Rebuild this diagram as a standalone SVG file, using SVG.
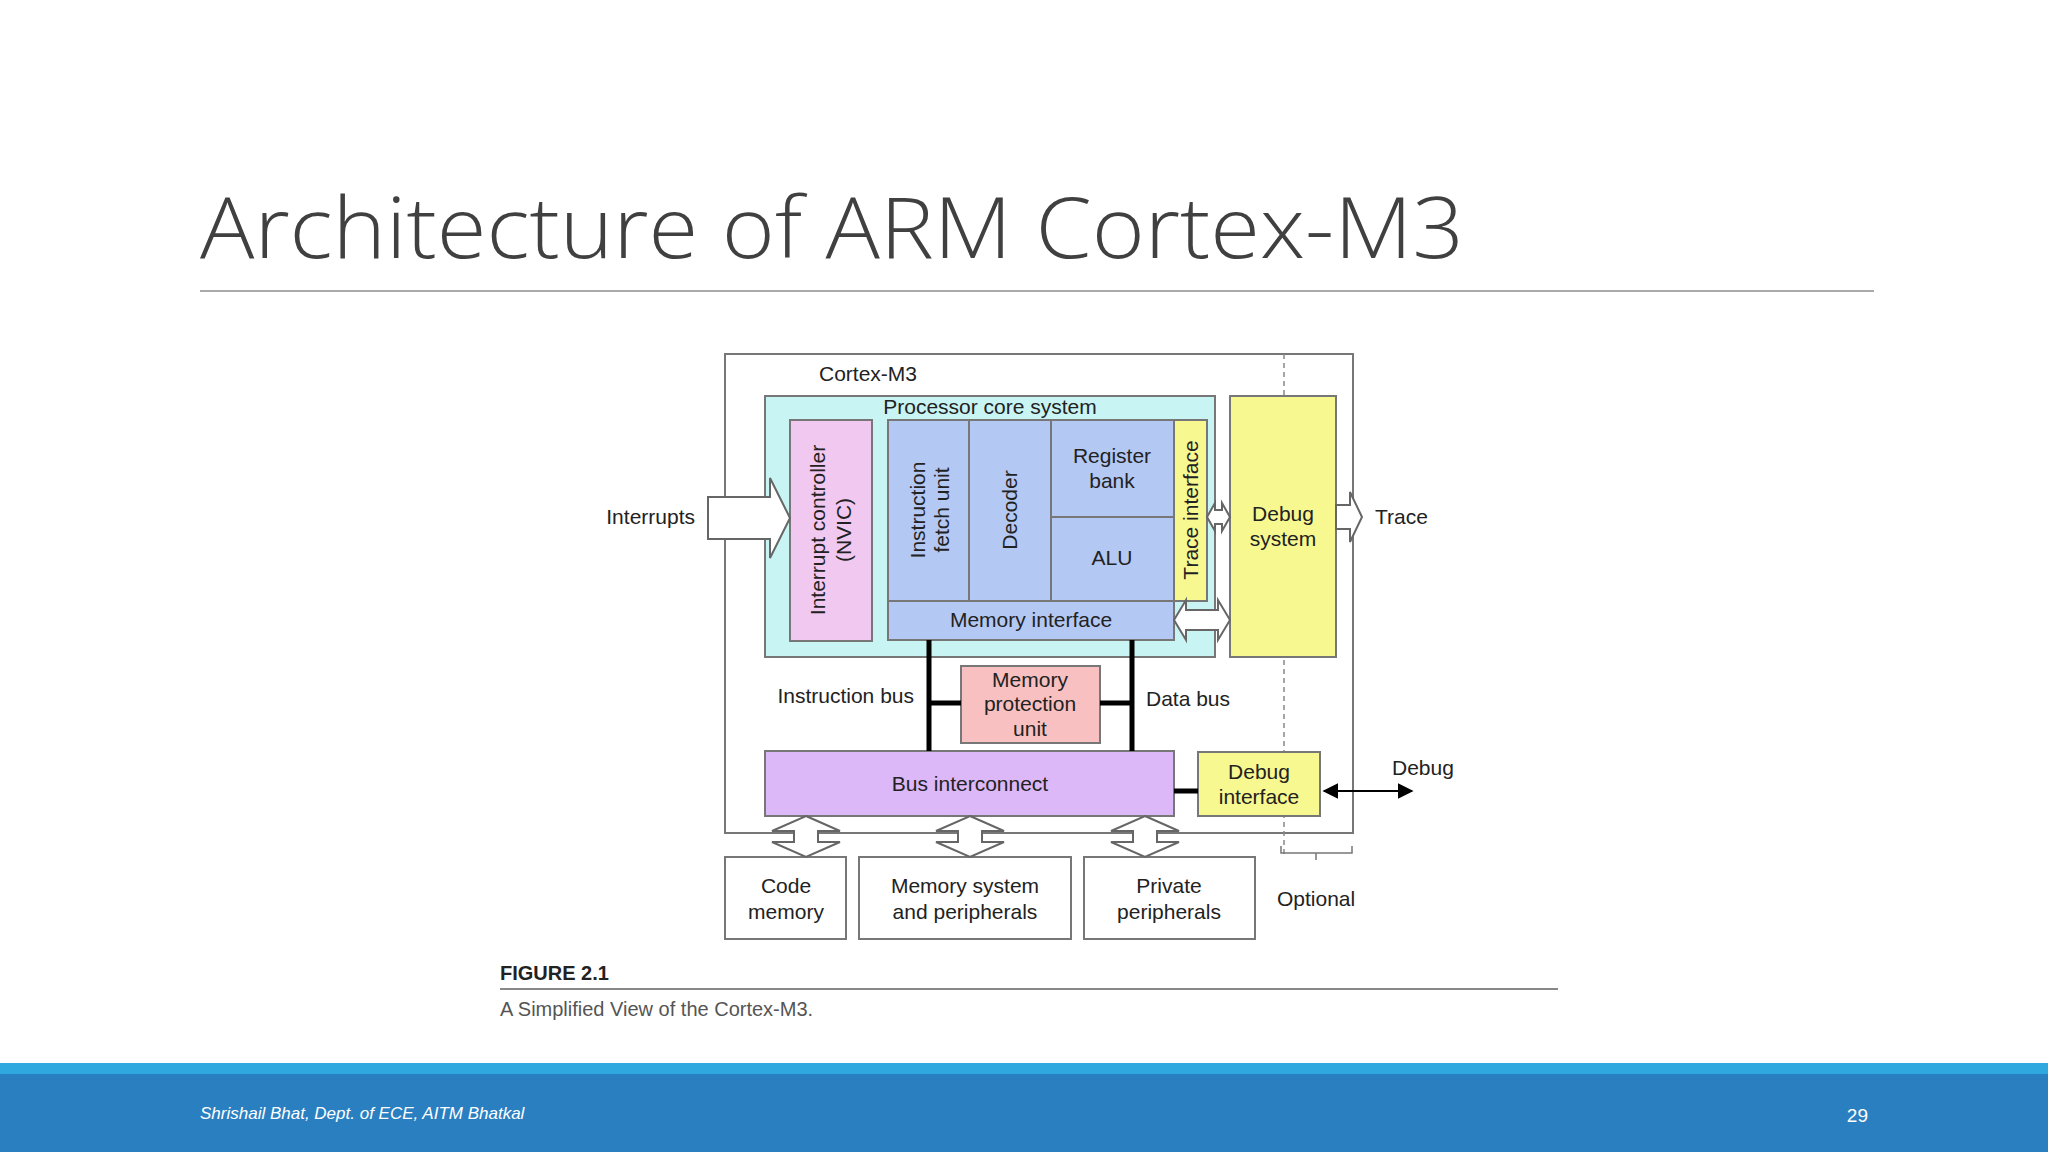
<svg xmlns="http://www.w3.org/2000/svg" width="2048" height="1152" viewBox="0 0 2048 1152">
<style>
text{font-family:"Liberation Sans",Arial,sans-serif;fill:#222;font-size:21px}
.b{stroke:#777;stroke-width:2}
.c{text-anchor:middle}
.bar{stroke:#000;stroke-width:5;fill:none}
.ar{fill:#fff;stroke:#666;stroke-width:2}
</style>
<defs>
<marker id="ah" viewBox="0 0 10 10" refX="9" refY="5" markerWidth="8" markerHeight="8" orient="auto-start-reverse"><path d="M0,0L10,5L0,10z" fill="#000"/></marker>
</defs>
<rect width="2048" height="1152" fill="#fff"/>
<text x="200" y="258" textLength="1264" lengthAdjust="spacingAndGlyphs" style="font-family:'Open Sans',sans-serif;font-weight:300;font-size:84px;fill:#404040">Architecture of ARM Cortex-M3</text>
<line x1="200" y1="291" x2="1874" y2="291" stroke="#aaa" stroke-width="2"/>

<g id="cortex"><rect x="725" y="354" width="628" height="479" fill="#fff" class="b"/><text x="819" y="381">Cortex-M3</text></g>
<line x1="1284" y1="354" x2="1284" y2="858" stroke="#888" stroke-width="1.5" stroke-dasharray="5,4"/>
<g id="core"><rect x="765" y="396" width="450" height="261" fill="#c8f4f4" class="b"/><text x="990" y="414" class="c">Processor core system</text></g>
<g id="nvic"><rect x="790" y="420" width="82" height="221" fill="#f0c8f0" class="b"/><text transform="translate(825,530) rotate(-90)" class="c">Interrupt controller</text><text transform="translate(851,530) rotate(-90)" class="c">(NVIC)</text></g>
<g id="fetch"><rect x="888" y="420" width="81" height="181" fill="#b4c8f4" class="b"/><text transform="translate(925,510) rotate(-90)" class="c">Instruction</text><text transform="translate(949,510) rotate(-90)" class="c">fetch unit</text></g>
<g id="decoder"><rect x="969" y="420" width="82" height="181" fill="#b4c8f4" class="b"/><text transform="translate(1017,510) rotate(-90)" class="c">Decoder</text></g>
<g id="regbank"><rect x="1051" y="420" width="123" height="97" fill="#b4c8f4" class="b"/><text x="1112" y="463" class="c">Register</text><text x="1112" y="488" class="c">bank</text></g>
<g id="alu"><rect x="1051" y="517" width="123" height="84" fill="#b4c8f4" class="b"/><text x="1112" y="565" class="c">ALU</text></g>
<g id="trace"><rect x="1174" y="420" width="33" height="181" fill="#f8f890" class="b"/><text transform="translate(1198,510) rotate(-90)" class="c">Trace interface</text></g>
<g id="memif"><rect x="888" y="601" width="286" height="39" fill="#b4c8f4" class="b"/><text x="1031" y="627" class="c">Memory interface</text></g>
<g id="debugsys"><rect x="1230" y="396" width="106" height="261" fill="#f8f890" class="b"/><text x="1283" y="521" class="c">Debug</text><text x="1283" y="546" class="c">system</text></g>
<g id="mpu"><rect x="961" y="666" width="139" height="77" fill="#f8c0c0" class="b"/><text x="1030" y="687" class="c">Memory</text><text x="1030" y="711" class="c">protection</text><text x="1030" y="736" class="c">unit</text></g>
<g id="busic"><rect x="765" y="751" width="409" height="65" fill="#dcb8f8" class="b"/><text x="970" y="791" class="c">Bus interconnect</text></g>
<g id="debugif"><rect x="1198" y="752" width="122" height="64" fill="#f8f890" class="b"/><text x="1259" y="779" class="c">Debug</text><text x="1259" y="804" class="c">interface</text></g>
<g id="code"><rect x="725" y="857" width="121" height="82" fill="#fff" class="b"/><text x="786" y="893" class="c">Code</text><text x="786" y="919" class="c">memory</text></g>
<g id="memsys"><rect x="859" y="857" width="212" height="82" fill="#fff" class="b"/><text x="965" y="893" class="c">Memory system</text><text x="965" y="919" class="c">and peripherals</text></g>
<g id="priv"><rect x="1084" y="857" width="171" height="82" fill="#fff" class="b"/><text x="1169" y="893" class="c">Private</text><text x="1169" y="919" class="c">peripherals</text></g>

<g id="connectors">
<path class="ar" d="M708,497H770V478L790,518L770,558V539H708Z"/>
<path class="ar" d="M1336,505H1350V492L1362,517L1350,542V529H1336Z"/>
<path class="ar" d="M1207,517L1215,503V510H1222V503L1230,517L1222,531V524H1215V531Z"/>
<path class="ar" d="M1174,620L1186,600V610H1218V600L1230,620L1218,640V630H1186V640Z"/>
<path class="bar" d="M929,640V751M1132,640V751M929,703H961M1100,703H1132M1174,791H1198"/>
<line x1="1324" y1="791" x2="1412" y2="791" stroke="#000" stroke-width="2" marker-start="url(#ah)" marker-end="url(#ah)"/>
<path class="ar" d="M806,816L840,831H818V842H840L806,857L772,842H794V831H772Z"/>
<path class="ar" d="M970,816L1004,831H982V842H1004L970,857L936,842H958V831H936Z"/>
<path class="ar" d="M1145,816L1179,831H1157V842H1179L1145,857L1111,842H1133V831H1111Z"/>
<path d="M1281,846V853H1352V846M1316,853V860" fill="none" stroke="#777" stroke-width="1.5"/>
</g>
<text x="695" y="524" text-anchor="end">Interrupts</text>
<text x="1375" y="524">Trace</text>
<text x="914" y="703" text-anchor="end">Instruction bus</text>
<text x="1146" y="706">Data bus</text>
<text x="1392" y="775">Debug</text>
<text x="1277" y="906">Optional</text>
<text x="500" y="980" style="font-weight:bold;font-size:20px">FIGURE 2.1</text>
<line x1="500" y1="989" x2="1558" y2="989" stroke="#888" stroke-width="2"/>
<text x="500" y="1016" style="font-size:20px;fill:#555">A Simplified View of the Cortex-M3.</text>
<rect x="0" y="1063" width="2048" height="11" fill="#2fa8e0"/>
<rect x="0" y="1074" width="2048" height="78" fill="#2a7fc1"/>
<text x="200" y="1119" style="font-style:italic;font-size:17px;fill:#fff">Shrishail Bhat, Dept. of ECE, AITM Bhatkal</text>
<text x="1868" y="1122" text-anchor="end" style="font-size:19px;fill:#fff">29</text>
</svg>
